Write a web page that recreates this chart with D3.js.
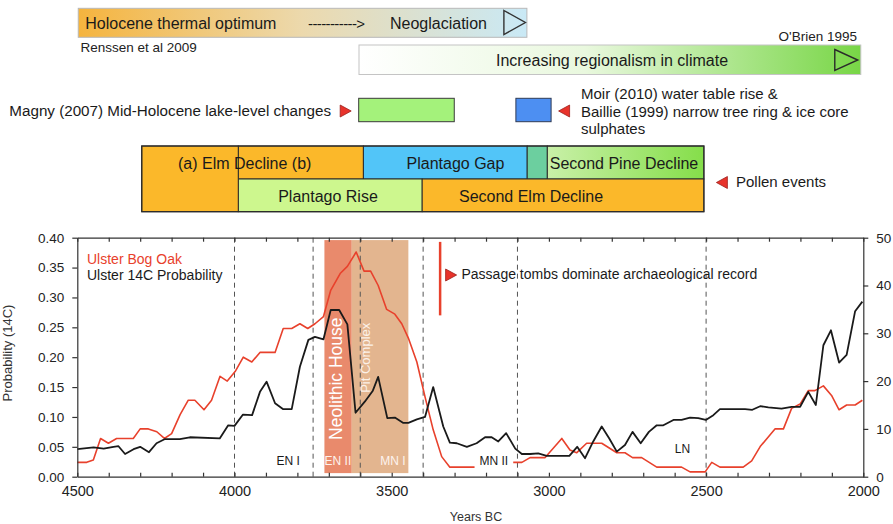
<!DOCTYPE html>
<html><head><meta charset="utf-8">
<script src="https://cdn.jsdelivr.net/npm/d3@7"></script>
<style>
body{margin:0;background:#fff}
svg text{font-family:"Liberation Sans",Arial,Helvetica,sans-serif}
</style>
</head><body>
<svg id="chart" width="893" height="524"></svg>
<script>
// ---------- DATA ----------
const probYears = [4500,4448,4416,4385,4369,4348,4321,4300,4272,4248,4221,4174,4142,4047,4020,4000,3973,3944,3919,3898,3871,3845,3818,3792,3765,3744,3717,3694,3667,3641,3615,3585,3560,3543,3514,3490,3463,3447,3420,3394,3368,3336,3315,3293,3261,3230,3203,3182,3161,3136,3107,3086,3060,3034,3007,2975,2935,2910,2885,2859,2832,2808,2784,2758,2734,2708,2682,2657,2636,2604,2578,2551,2525,2501,2477,2456,2429,2376,2353,2328,2302,2260,2228,2201,2175,2151,2127,2103,2077,2053,2026,2003];
const probValues = [0.046,0.049,0.047,0.050,0.051,0.038,0.046,0.050,0.041,0.056,0.063,0.063,0.066,0.064,0.086,0.085,0.104,0.103,0.142,0.159,0.123,0.113,0.113,0.184,0.229,0.234,0.230,0.279,0.279,0.255,0.107,0.126,0.144,0.167,0.098,0.099,0.090,0.090,0.096,0.100,0.150,0.084,0.057,0.056,0.050,0.056,0.066,0.066,0.059,0.073,0.047,0.038,0.038,0.039,0.035,0.035,0.035,0.050,0.031,0.059,0.084,0.064,0.042,0.053,0.075,0.056,0.075,0.086,0.086,0.095,0.095,0.099,0.098,0.095,0.103,0.113,0.113,0.113,0.112,0.118,0.116,0.114,0.117,0.117,0.142,0.120,0.220,0.245,0.191,0.204,0.277,0.293];

const oakYears = [4500,4470,4449,4426,4401,4375,4322,4300,4274,4247,4223,4200,4173,4147,4126,4097,4073,4046,4023,3998,3972,3945,3919,3871,3845,3818,3792,3767,3744,3717,3694,3664,3641,3613,3588,3567,3543,3516,3490,3468,3447,3420,3394,3368,3341,3315,3235,3113,3086,3060,3012,2959,2933,2912,2880,2832,2784,2758,2734,2705,2657,2578,2551,2503,2482,2456,2382,2355,2328,2281,2254,2228,2201,2175,2154,2127,2101,2077,2053,2026,2003];
const oakCounts = [3,3,3.5,8,7,8,8,10,10,9.4,8,9,13,16,16,14,16,21,20,22,25,24,26,26,31,31,32,31,32,33.5,39,42.5,44,47,43,43,40,35,34,32,29,24,16.7,9.8,4.2,2,2,3,3,4,4,8,5.6,5,7,7,5,5,4,4,2,2,1,1,3,2,2,3.3,6.3,10,10,14.3,15.2,18,18,19,17,14,15,15,16];

const xTickLabels = [4500,4000,3500,3000,2500,2000];
const leftTicks = [0,0.05,0.10,0.15,0.20,0.25,0.30,0.35,0.40];
const rightTicks = [0,10,20,30,40,50];
const periodBoundaries = [4000,3750,3600,3400,3100,2500];
const periodNames = ["EN I","EN II","MN I","MN II","LN"];
const periodNameYears = [3829,3671,3496,3175,2575];
const periodNameLevels = [0.02,0.02,0.02,0.02,0.04];
const shadedNames = ["Neolithic House","Pit Complex"];
const shadedStart = [3714,3627];
const shadedEnd = [3627,3447];
const seriesNames = ["Ulster Bog Oak","Ulster 14C Probability"];

const pollenRow1Names = ["(a) Elm Decline (b)","Plantago Gap","","Second Pine Decline"];
const pollenRow1Start = [3988,3590,3069,3005];
const pollenRow1End = [3590,3069,3005,2507];
const pollenRow2Names = ["Plantago Rise","Second Elm Decline"];
const pollenRow2Start = [3988,3403];
const pollenRow2End = [3403,2507];
const pollenStart = 4295;

// ---------- SETUP ----------
const svg = d3.select("#chart");
const FONT = '"Liberation Sans",Arial,Helvetica,sans-serif';
const x = d3.scaleLinear().domain([4500,2000]).range([77.3,863.3]);
const yL = d3.scaleLinear().domain([0,0.4]).range([476.7,237.7]);
const yR = d3.scaleLinear().domain([0,50]).range([476.7,237.7]);

const defs = svg.append("defs");
function grad(id, stops){
  const g = defs.append("linearGradient").attr("id",id).attr("x1","0%").attr("x2","100%").attr("y1","0%").attr("y2","0%");
  stops.forEach(s=>g.append("stop").attr("offset",s[0]).attr("stop-color",s[1]));
}
grad("g1",[["0%","#f5b43e"],["50%","#ecd9ad"],["100%","#c9e9f6"]]);
grad("g2",[["0%","#ffffff"],["45%","#e9f8de"],["100%","#78d646"]]);
grad("g3",[["0%","#c9f0a8"],["100%","#85de4a"]]);

function redTri(cx, cy, dir){ // dir 1 = right, -1 = left
  const w = 11, h = 12;
  const pts = dir>0 ? [[cx-w/2,cy-h/2],[cx+w/2,cy],[cx-w/2,cy+h/2]] : [[cx+w/2,cy-h/2],[cx-w/2,cy],[cx+w/2,cy+h/2]];
  svg.append("path").attr("d","M"+pts.map(p=>p.join(",")).join("L")+"Z")
    .attr("fill","#e8332b").attr("stroke","#9a1f1a").attr("stroke-width",0.8);
}

// ---------- TOP ANNOTATIONS ----------
// Box 1
const b1x0 = x(4497), b1x1 = x(3070);
svg.append("rect").attr("x",b1x0).attr("y",8.3).attr("width",b1x1-b1x0).attr("height",29)
  .attr("fill","url(#g1)").attr("stroke","#b8b8b8").attr("stroke-width",1);
svg.append("text").attr("x",b1x0+7).attr("y",28.5).attr("font-size",16).attr("fill","#1a1a1a").text("Holocene thermal optimum");
svg.append("text").attr("x",308).attr("y",28.5).attr("font-size",15).attr("fill","#1a1a1a").attr("letter-spacing",-0.6).text("----------->");
svg.append("text").attr("x",390).attr("y",28.5).attr("font-size",16).attr("fill","#1a1a1a").text("Neoglaciation");
svg.append("path").attr("d",`M${b1x1-23},10.5L${b1x1-1.5},22.5L${b1x1-23},34.5Z`).attr("fill","none").attr("stroke","#333").attr("stroke-width",1.4);
svg.append("text").attr("x",80.5).attr("y",52).attr("font-size",13.5).attr("fill","#222").text("Renssen et al 2009");

// Box 2
const b2x0 = x(3604), b2x1 = x(2008);
svg.append("rect").attr("x",b2x0).attr("y",45).attr("width",b2x1-b2x0).attr("height",29.5)
  .attr("fill","url(#g2)").attr("stroke","#c4c4c4").attr("stroke-width",1);
svg.append("text").attr("x",612).attr("y",65.5).attr("text-anchor","middle").attr("font-size",16).attr("fill","#1a1a1a").text("Increasing regionalism in climate");
svg.append("path").attr("d",`M${b2x1-26},49.5L${b2x1-3},60L${b2x1-26},70.5Z`).attr("fill","none").attr("stroke","#2a2a2a").attr("stroke-width",1.4);
svg.append("text").attr("x",857).attr("y",41).attr("text-anchor","end").attr("font-size",13.5).attr("fill","#222").text("O'Brien 1995");

// Magny
svg.append("rect").attr("x",x(3605)).attr("y",98.3).attr("width",x(3301)-x(3605)).attr("height",23.4)
  .attr("fill","#a4f27b").attr("stroke","#3a3a3a").attr("stroke-width",1);
redTri(x(3605)-13, 111, 1);
svg.append("text").attr("x",331).attr("y",115.5).attr("text-anchor","end").attr("font-size",15.2).attr("fill","#1a1a1a").text("Magny (2007) Mid-Holocene lake-level changes");

// Moir / Baillie
svg.append("rect").attr("x",x(3105)).attr("y",98.3).attr("width",x(2993)-x(3105)).attr("height",23.4)
  .attr("fill","#4d8ff2").attr("stroke","#2f3b55").attr("stroke-width",1);
redTri(x(2993)+13, 111, -1);
["Moir (2010) water table rise &","Baillie (1999) narrow tree ring & ice core","sulphates"].forEach((t,i)=>{
  svg.append("text").attr("x",581).attr("y",99+i*17.6).attr("font-size",15).attr("fill","#1a1a1a").text(t);
});

// Pollen events
const pTop = 146, pMid = 179, pBot = 211.7;
const row1Fill = ["#fbb82a","#52c5f8","#6ccf9f","url(#g3)"];
pollenRow1Names.forEach((n,i)=>{
  svg.append("rect").attr("x",x(pollenRow1Start[i])).attr("y",pTop).attr("width",x(pollenRow1End[i])-x(pollenRow1Start[i])).attr("height",pMid-pTop)
    .attr("fill",row1Fill[i]).attr("stroke","#2a2a2a").attr("stroke-width",1);
});
const row2Fill = ["#cdf78e","#fbb82a"];
pollenRow2Names.forEach((n,i)=>{
  svg.append("rect").attr("x",x(pollenRow2Start[i])).attr("y",pMid).attr("width",x(pollenRow2End[i])-x(pollenRow2Start[i])).attr("height",pBot-pMid)
    .attr("fill",row2Fill[i]).attr("stroke","#2a2a2a").attr("stroke-width",1);
});
svg.append("rect").attr("x",x(pollenStart)).attr("y",pTop).attr("width",x(pollenRow1Start[0])-x(pollenStart)).attr("height",pBot-pTop)
  .attr("fill","#fbb82a").attr("stroke","#2a2a2a").attr("stroke-width",1);
svg.append("rect").attr("x",x(pollenStart)).attr("y",pTop).attr("width",x(2507)-x(pollenStart)).attr("height",pBot-pTop)
  .attr("fill","none").attr("stroke","#2a2a2a").attr("stroke-width",1.2);
const row1TextX = [244.7,455.5,0,624];
pollenRow1Names.forEach((n,i)=>{ if(n) svg.append("text").attr("x",row1TextX[i]).attr("y",168.5).attr("text-anchor","middle").attr("font-size",16).attr("fill","#1a1a1a").text(n); });
const row2TextX = [328,531];
pollenRow2Names.forEach((n,i)=>{ svg.append("text").attr("x",row2TextX[i]).attr("y",202).attr("text-anchor","middle").attr("font-size",16).attr("fill","#1a1a1a").text(n); });
redTri(x(2507)+18, 182.5, -1);
svg.append("text").attr("x",736).attr("y",187).attr("font-size",15).attr("fill","#1a1a1a").text("Pollen events");

// ---------- PLOT ----------
const plot = svg.append("g");
const shadeFill = ["#e98a6c","#e3b58f"];
shadedNames.forEach((n,i)=>{
  plot.append("rect").attr("x",x(shadedStart[i])).attr("y",yL(0.396)).attr("width",x(shadedEnd[i])-x(shadedStart[i])).attr("height",yL(0.006)-yL(0.396))
    .attr("fill",shadeFill[i]);
});
plot.append("text").attr("transform",`translate(${x(shadedStart[0])+18},${yL(0.164)}) rotate(-90)`)
  .attr("text-anchor","middle").attr("font-size",17.5).attr("fill","#ffffff").text(shadedNames[0]);
plot.append("text").attr("transform",`translate(${x(shadedStart[1])+18.5},${yL(0.199)}) rotate(-90)`)
  .attr("text-anchor","middle").attr("font-size",13).attr("fill","#fbf1e8").text(shadedNames[1]);

periodBoundaries.forEach(yr=>{
  plot.append("line").attr("x1",x(yr)).attr("x2",x(yr)).attr("y1",yL(0.4)).attr("y2",yL(0))
    .attr("stroke","#555").attr("stroke-width",1).attr("stroke-dasharray","5,4");
});

// series
const oakData = oakYears.map((yr,i)=>({yr, v:oakCounts[i]}));
const probData = probYears.map((yr,i)=>({yr, v:probValues[i]}));
plot.append("path").datum(oakData).attr("fill","none").attr("stroke","#e8412c").attr("stroke-width",1.6)
  .attr("stroke-linejoin","round").attr("d",d3.line().x(d=>x(d.yr)).y(d=>yR(d.v)));
plot.append("path").datum(probData).attr("fill","none").attr("stroke","#1a1a1a").attr("stroke-width",1.8)
  .attr("stroke-linejoin","round").attr("d",d3.line().x(d=>x(d.yr)).y(d=>yL(d.v)));

// period names
periodNames.forEach((n,i)=>{
  const white = (n==="EN II"||n==="MN I");
  const t = plot.append("text").attr("x",x(periodNameYears[i])).attr("y",yL(periodNameLevels[i])).attr("text-anchor","middle")
    .attr("font-size",12).attr("fill",white?"#fdf3ee":"#1a1a1a").text(n);
  if(n==="MN II"){
    const bb = t.node().getBBox();
    plot.append("rect").attr("x",bb.x-5).attr("y",bb.y-1).attr("width",bb.width+10).attr("height",bb.height+2).attr("fill","#fff");
    t.raise();
  }
});

// passage tombs annotation
plot.append("line").attr("x1",x(3346)).attr("x2",x(3346)).attr("y1",yL(0.393)).attr("y2",yL(0.27))
  .attr("stroke","#e8412c").attr("stroke-width",2.5);
redTri(x(3346)+11, 275, 1);
svg.append("text").attr("x",461.5).attr("y",279).attr("font-size",14).attr("fill","#1a1a1a").text("Passage tombs dominate archaeological record");

// legend
svg.append("text").attr("x",87).attr("y",264).attr("font-size",14).attr("fill","#e8412c").text(seriesNames[0]);
svg.append("text").attr("x",87).attr("y",280).attr("font-size",14).attr("fill","#1a1a1a").text(seriesNames[1]);

// ---------- AXES ----------
const minorYears = d3.range(4500,1999,-100);
function styleAxis(g, fs){
  g.selectAll("path,line").attr("stroke","#333").attr("stroke-width",1.2);
  g.selectAll("text").attr("fill","#222").attr("font-size",fs).attr("font-family",FONT);
}
const axB = svg.append("g").attr("transform",`translate(0,${yL(0)})`)
  .call(d3.axisBottom(x).tickValues(minorYears).tickSizeInner(-4).tickSizeOuter(0).tickPadding(9)
    .tickFormat(d=>xTickLabels.includes(d)?String(d):""));
styleAxis(axB,14.5);
const axT = svg.append("g").attr("transform",`translate(0,${yL(0.4)})`)
  .call(d3.axisTop(x).tickValues(minorYears).tickSizeInner(-4).tickSizeOuter(0).tickFormat(""));
styleAxis(axT,12);
const axL = svg.append("g").attr("transform",`translate(${x(4500)},0)`)
  .call(d3.axisLeft(yL).tickValues(leftTicks).tickSizeInner(5).tickSizeOuter(0).tickPadding(8).tickFormat(d3.format(".2f")));
styleAxis(axL,13.5);
const axR = svg.append("g").attr("transform",`translate(${x(2000)},0)`)
  .call(d3.axisRight(yR).tickValues(rightTicks).tickSizeInner(5).tickSizeOuter(0).tickPadding(8));
styleAxis(axR,13.5);

svg.append("text").attr("transform",`translate(11.5,353) rotate(-90)`).attr("text-anchor","middle").attr("font-size",13).attr("fill","#333").text("Probability (14C)");
svg.append("text").attr("x",476).attr("y",521).attr("text-anchor","middle").attr("font-size",12.5).attr("fill","#333").text("Years BC");
</script>
</body></html>
